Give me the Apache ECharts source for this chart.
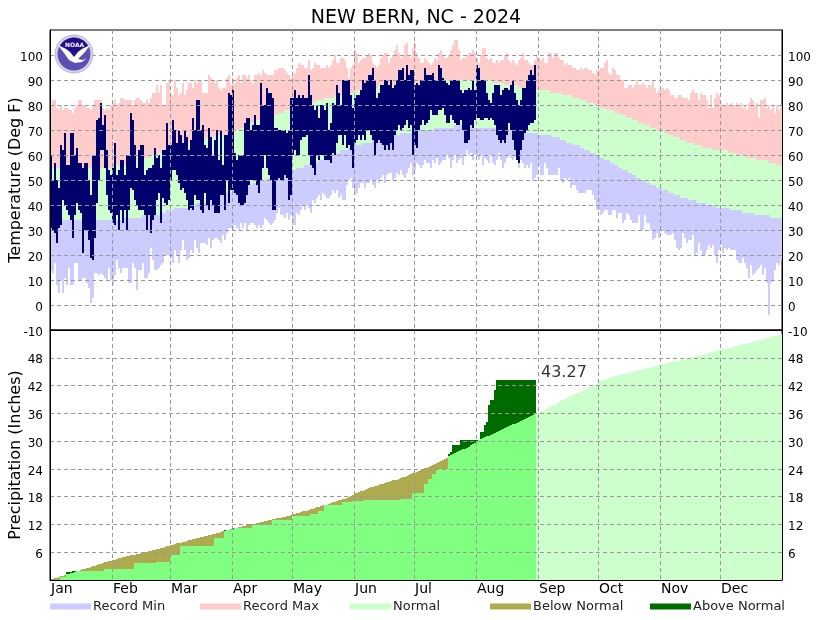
<!DOCTYPE html>
<html><head><meta charset="utf-8">
<style>html,body{margin:0;padding:0;background:#fff}#c{width:832px;height:620px}</style>
<script src="https://cdn.jsdelivr.net/npm/echarts@6/dist/echarts.min.js"></script>
</head><body><div id="c"></div>
<script>
const months = ['Jan','Feb','Mar','Apr','May','Jun','Jul','Aug','Sep','Oct','Nov','Dec'];
const monthDays = [31,29,31,30,31,30,31,31,30,31,30,31];
const chartTitle = 'NEW BERN, NC - 2024';
const tempTicks = [-10,0,10,20,30,40,50,60,70,80,90,100];
const precipTicks = [6,12,18,24,30,36,42,48];

const recordMin = [
14,13,17,8,5,10,5,11,8,15,8,8,17,17,10,10,11,11,9,7,1,3,13,13,12,13,12,11,10,15,10,
8,12,18,15,13,15,15,15,9,9,17,15,6,14,14,17,11,11,13,23,18,14,14,15,16,17,20,20,20,
19,17,22,20,17,22,26,22,18,19,22,21,26,23,21,25,25,25,24,27,23,26,27,27,26,25,28,26,29,31,31,
30,32,31,30,33,31,33,30,32,33,33,32,31,32,31,32,35,34,33,32,33,34,37,39,36,36,35,37,34,36,
32,32,37,36,38,40,38,40,39,37,42,41,43,44,42,45,44,43,43,44,46,45,46,43,44,42,42,48,50,51,47,
44,45,47,49,49,47,49,49,50,48,47,50,49,51,52,49,52,53,53,50,51,53,52,54,52,51,53,55,57,52,
54,57,56,55,56,58,57,57,55,58,57,59,56,57,58,58,60,59,55,58,60,57,58,59,56,60,62,60,61,58,60,
60,58,60,56,59,58,57,60,57,56,58,61,58,55,57,59,60,59,58,60,58,55,58,57,55,56,55,57,50,51,52,
56,52,52,57,55,52,52,52,52,52,55,50,49,51,50,51,47,48,48,46,45,45,45,45,46,46,46,44,42,38,
38,36,37,38,38,36,36,38,38,35,37,37,33,34,37,36,34,33,33,33,36,30,30,36,33,33,30,26,27,29,27,
30,30,29,28,28,28,29,26,23,22,23,29,27,25,26,26,28,20,21,25,22,20,20,22,24,23,24,20,17,22,
24,21,23,22,23,22,22,22,18,17,17,19,17,15,11,16,12,13,14,15,16,12,15,9,-4,9,10,14,17,16,18];

const recordMax = [
80,82,82,79,78,80,78,79,79,78,78,77,79,80,82,82,80,80,79,79,78,80,82,82,82,82,79,78,79,78,80,
81,82,80,81,83,83,82,82,82,82,80,82,83,83,82,81,81,82,81,83,85,85,88,85,88,80,80,89,90,
84,84,90,87,84,85,89,84,86,89,89,87,90,89,90,90,85,85,85,92,91,90,89,90,87,86,87,87,91,92,88,
91,89,91,92,89,92,92,91,92,90,89,92,92,93,92,94,93,92,92,92,92,94,94,95,95,95,94,93,92,91,
92,93,95,97,96,96,95,95,98,94,95,97,96,96,95,95,95,96,95,96,98,100,97,97,99,99,98,95,91,95,96,
102,101,97,98,99,99,100,101,100,97,96,95,96,99,100,101,101,97,99,100,102,104,101,99,100,104,105,100,99,103,
105,101,99,97,97,99,98,97,96,97,99,98,101,102,100,99,99,100,102,104,106,106,102,98,99,99,100,101,101,102,101,
99,97,100,103,103,99,98,99,97,97,98,97,98,98,100,101,98,97,98,97,96,98,99,101,98,98,97,96,96,98,100,
99,98,99,97,97,101,101,99,101,101,99,98,98,96,97,96,96,95,95,94,94,95,94,95,95,94,94,93,92,94,
94,95,95,97,98,93,92,95,94,92,92,90,90,87,87,88,88,87,88,90,88,88,89,88,87,88,88,90,87,85,86,
86,87,86,87,86,84,84,83,83,84,84,83,83,83,82,85,86,85,85,82,85,84,84,82,79,84,79,83,85,84,
81,80,80,81,80,81,80,80,81,80,81,79,80,78,81,83,82,80,81,75,82,82,83,79,80,78,80,77,80,78,80];

const normalHigh = [
55,55,55,55,55,55,55,55,55,55,55,55,55,55,55,55,55,55,55,55,55,55,55,55,55,55,55,55,55,55,55,
55,55,56,56,56,56,56,57,57,57,57,58,58,58,58,59,59,59,59,60,60,60,60,61,61,61,61,62,62,
62,62,63,63,63,64,64,64,64,65,65,65,65,66,66,66,66,66,67,67,67,67,67,67,68,68,68,68,68,69,69,
69,70,70,70,71,71,72,72,72,73,73,73,74,74,74,75,75,75,75,76,76,76,76,77,77,77,78,78,78,79,
79,79,79,80,80,80,80,81,81,81,81,81,82,82,82,82,83,83,83,83,83,84,84,84,84,84,85,85,85,85,85,
85,86,86,86,86,86,87,87,87,87,87,87,88,88,88,88,88,88,88,88,88,89,89,89,89,89,89,89,89,89,
89,89,89,89,89,90,90,90,90,90,90,90,90,90,90,90,90,90,90,90,90,90,90,90,90,90,90,90,90,90,90,
90,90,90,90,90,90,90,90,89,89,89,89,89,89,88,88,88,88,88,88,88,87,87,87,87,87,87,87,87,86,86,
86,86,86,86,86,86,85,85,85,85,85,85,84,84,84,84,84,83,83,83,83,82,82,82,81,81,81,81,80,80,
80,79,79,79,78,78,78,78,77,77,77,76,76,76,75,75,75,74,74,74,73,73,73,72,72,72,71,71,71,70,70,
70,70,69,69,68,68,68,67,67,67,66,66,66,65,65,65,65,64,64,64,64,63,63,63,63,63,62,62,62,62,
62,62,62,62,61,61,61,61,60,60,60,60,60,59,59,59,59,59,58,58,58,58,58,58,57,57,57,57,56,56,56];

const normalLow = [
34,34,34,34,34,34,34,34,34,34,34,34,34,34,34,34,34,34,34,34,34,34,34,34,34,34,34,34,34,34,34,
34,34,34,34,34,35,35,35,35,35,35,35,35,35,35,36,36,36,36,36,36,36,36,36,37,37,37,38,38,
38,38,39,39,39,39,39,39,39,40,40,40,40,41,41,41,41,41,42,42,42,42,43,43,43,44,44,44,45,45,45,
46,46,46,46,47,47,47,48,48,48,49,49,49,50,50,50,50,51,51,51,51,52,52,52,53,53,53,53,54,54,
54,54,55,55,55,55,56,56,56,57,57,57,57,58,58,58,59,59,60,60,60,61,61,61,62,62,62,62,63,63,63,
64,64,64,64,65,65,65,65,65,66,66,66,66,66,67,67,67,67,68,68,68,68,68,69,69,69,69,69,69,70,
70,70,70,70,70,70,70,70,70,70,71,71,71,71,71,71,71,71,71,71,72,72,72,72,72,72,72,72,72,72,71,
71,71,71,71,71,71,71,71,71,71,70,70,70,70,70,70,70,70,70,70,69,69,69,69,69,69,69,69,69,69,69,
68,68,68,68,68,68,68,67,67,67,67,66,66,66,65,65,65,64,64,64,64,63,63,62,62,62,61,61,61,60,
60,59,59,58,58,58,57,57,56,56,55,55,54,54,54,53,53,52,52,51,51,50,50,50,49,49,48,48,48,47,47,
47,46,46,46,45,45,45,44,44,44,43,43,43,43,42,42,42,42,41,41,41,41,41,40,40,40,40,40,39,39,
39,39,39,39,39,38,38,38,38,38,38,37,37,37,37,37,37,36,36,36,36,36,36,36,36,35,35,35,35,35,35];

const obsHigh = [
60,50,57,50,47,64,62,69,56,56,69,69,60,63,57,57,55,57,57,50,44,60,60,74,75,81,72,76,62,54,52,
55,65,52,54,58,58,52,60,60,77,74,64,55,62,64,64,52,54,55,55,56,63,59,60,55,62,62,73,64,
64,74,70,65,70,68,65,70,67,62,66,75,70,82,82,70,72,64,63,71,67,60,66,70,58,70,56,68,68,85,84,
86,61,58,60,60,60,73,75,75,70,72,76,72,72,89,80,80,87,85,85,83,71,71,70,70,70,70,69,70,83,83,
86,83,84,83,84,83,83,92,84,80,78,80,75,80,80,78,81,70,73,81,80,88,85,80,90,90,90,90,84,79,83,
84,84,86,90,89,90,92,92,95,90,83,85,88,88,90,90,88,90,87,88,90,94,94,95,90,96,92,94,94,88,
89,88,90,90,95,92,92,92,93,90,90,96,95,91,90,89,88,90,90,90,90,90,86,85,86,86,87,86,90,86,96,
95,90,90,90,85,82,81,85,88,88,88,84,86,87,87,86,88,90,85,82,80,82,87,87,90,92,94,92,96,96];

const obsLow = [
31,30,29,25,31,32,42,40,38,36,34,27,36,41,38,37,21,30,30,26,19,18,27,41,50,62,62,55,44,38,37,
33,32,36,30,38,33,38,30,38,47,46,42,40,38,38,38,36,30,36,29,34,36,42,45,33,43,41,40,42,
50,54,54,52,49,46,47,45,42,38,39,38,44,42,42,38,37,45,40,38,42,40,37,37,37,44,44,38,50,41,46,
46,45,44,41,40,40,41,44,48,50,50,50,48,45,50,55,60,55,52,50,38,38,50,51,50,50,52,51,42,44,
60,62,60,60,66,67,67,68,60,56,55,52,60,58,60,60,58,58,58,57,61,60,65,68,68,64,68,63,64,62,55,
65,66,68,66,68,66,70,70,68,66,60,65,66,65,64,62,64,62,65,62,68,70,72,70,71,72,74,71,72,60,
64,63,70,72,74,72,73,74,78,76,76,76,78,78,79,76,73,73,76,74,73,72,72,74,70,65,65,66,72,71,74,
75,75,74,74,75,75,74,75,74,72,68,66,65,66,65,68,73,70,66,62,58,57,62,66,69,70,72,73,73,74];

const normalPrecip = [
0.1,0.3,0.4,0.5,0.7,0.8,0.9,1.1,1.2,1.4,1.5,1.6,1.8,1.9,2.0,2.2,2.3,2.4,2.6,2.7,2.9,3.0,3.1,3.3,3.4,3.5,3.7,3.8,3.9,4.1,4.2,
4.3,4.4,4.5,4.7,4.8,4.9,5.0,5.1,5.2,5.3,5.4,5.5,5.6,5.7,5.8,5.9,6.0,6.1,6.2,6.3,6.4,6.5,6.6,6.7,6.9,7.0,7.1,7.3,7.4,
7.5,7.6,7.8,7.9,8.0,8.1,8.2,8.3,8.4,8.6,8.7,8.8,8.9,9.0,9.1,9.2,9.3,9.5,9.6,9.7,9.8,9.9,10.0,10.1,10.2,10.3,10.5,10.6,10.7,10.9,11.0,
11.1,11.2,11.3,11.4,11.5,11.6,11.7,11.8,11.9,12.0,12.1,12.2,12.3,12.4,12.5,12.6,12.7,12.8,12.9,13.0,13.1,13.2,13.3,13.4,13.5,13.6,13.7,13.8,13.9,14.1,
14.2,14.3,14.4,14.5,14.7,14.8,14.9,15.0,15.1,15.3,15.4,15.5,15.7,15.8,15.9,16.1,16.2,16.3,16.5,16.6,16.8,16.9,17.0,17.2,17.3,17.5,17.6,17.8,17.9,18.1,18.4,
18.7,18.8,19.0,19.2,19.3,19.5,19.6,19.8,20.0,20.1,20.2,20.4,20.5,20.7,20.8,20.9,21.1,21.2,21.3,21.5,21.6,21.7,21.9,22.0,22.2,22.3,22.5,22.7,22.9,23.1,
23.2,23.4,23.5,23.7,23.9,24.1,24.2,24.4,24.6,24.8,25.0,25.2,25.4,25.6,25.9,26.2,26.4,26.7,27.0,27.2,27.4,27.6,27.8,28.0,28.2,28.4,28.6,28.8,29.1,29.4,29.7,
30.0,30.2,30.4,30.6,30.8,31.0,31.2,31.4,31.6,31.8,32.0,32.2,32.4,32.6,32.8,33.0,33.2,33.4,33.6,33.8,34.0,34.2,34.4,34.6,34.8,35.0,35.2,35.4,35.6,35.8,35.9,
36.2,36.4,36.6,36.8,37.0,37.3,37.5,37.7,37.9,38.1,38.4,38.6,38.8,39.0,39.2,39.5,39.7,39.9,40.1,40.3,40.5,40.7,40.9,41.1,41.3,41.5,41.7,41.9,42.1,42.4,
42.7,42.9,43.1,43.3,43.4,43.6,43.7,43.9,44.0,44.1,44.2,44.3,44.4,44.6,44.7,44.8,44.9,45.0,45.1,45.2,45.3,45.4,45.5,45.6,45.7,45.8,45.9,46.0,46.2,46.3,46.4,
46.5,46.6,46.7,46.8,46.9,47.0,47.1,47.2,47.3,47.4,47.5,47.6,47.7,47.8,47.9,48.0,48.1,48.2,48.3,48.5,48.6,48.7,48.8,48.9,49.0,49.2,49.3,49.4,49.5,49.6,
49.7,49.8,49.9,50.0,50.1,50.2,50.3,50.5,50.6,50.7,50.8,50.9,51.0,51.1,51.2,51.3,51.4,51.6,51.7,51.8,51.9,52.0,52.1,52.2,52.3,52.4,52.6,52.7,52.8,53.0,53.2];

const obsPrecip = [
0.1,0.1,0.1,0.1,0.1,0.7,0.7,0.7,1.65,1.65,1.65,2.05,2.05,2.05,2.05,2.05,2.05,2.05,2.05,2.05,2.05,2.05,2.05,2.05,2.05,2.05,2.05,2.4,2.4,2.4,2.4,
2.4,2.4,2.4,2.4,2.4,2.4,2.4,2.4,2.4,2.4,2.4,3.6,3.6,3.6,3.6,3.6,3.6,3.6,3.6,3.6,3.6,3.6,3.95,3.95,3.95,3.95,3.95,3.95,3.95,
5.4,5.4,5.4,5.4,5.4,7.3,7.3,7.3,7.3,7.3,7.3,7.3,7.3,7.3,7.3,7.3,7.3,7.3,7.3,7.3,7.3,7.3,9.05,9.05,9.05,9.05,9.05,10.8,10.8,10.8,10.8,
11.2,11.2,11.2,11.2,11.2,11.2,11.2,11.2,11.2,11.2,11.85,11.85,11.85,11.85,11.85,11.85,11.85,11.85,11.85,11.85,12.95,12.95,12.95,12.95,12.95,12.95,12.95,12.95,12.95,12.95,
13.8,13.8,13.8,13.8,13.8,13.8,13.8,13.8,13.8,14.2,14.2,14.2,14.2,14.9,14.9,14.9,16.2,16.2,16.2,16.2,16.2,16.2,16.2,16.2,16.2,16.8,16.8,16.8,16.8,16.8,17,
17,17,17,17,17,17.25,17.25,17.25,17.25,17.25,17.25,17.25,17.25,17.25,17.25,17.25,17.25,17.25,17.25,17.25,17.25,17.25,17.25,17.5,17.5,17.5,17.5,17.5,17.5,18.8,
18.8,18.8,18.8,18.8,18.8,20.8,20.8,21.9,21.9,22.8,22.8,24,24,24,24,24,24,27.3,27.6,29.1,29.1,29.1,29.1,30.2,30.2,30.2,30.2,30.2,30.2,30.2,30.2,
30.2,30.2,32,32,33.4,34.1,37.7,38.8,38.8,41.1,43.1,43.1,43.1,43.1,43.1,43.1,43.27,43.27,43.27,43.27,43.27,43.27,43.27,43.27,43.27,43.27,43.27,43.27,43.27,43.27];

const categories = [];
const monthStarts = new Set();
months.forEach((m, k) => {
  monthStarts.add(categories.length);
  for (let d = 1; d <= monthDays[k]; d++) categories.push(m + ' ' + d);
});
const isMonthStart = i => monthStarts.has(i);

function dayBar(params, api) {
  const i = api.value(0);
  const a = api.coord([i, api.value(1)]);
  const b = api.coord([i, api.value(2)]);
  const w = api.size([1, 0])[0];
  const top = Math.round(b[1]), bottom = Math.round(a[1]);
  return { type: 'rect', shape: { x: Math.round(a[0] - w / 2), y: top, width: Math.round(w), height: bottom - top },
           style: api.style() };
}
function band(name, color, rows, panel) {
  return { type: 'custom', name, renderItem: dayBar, data: rows,
           xAxisIndex: panel, yAxisIndex: panel === 0 ? 0 : 2,
           encode: { x: 0, y: [1, 2] }, itemStyle: { color }, silent: true, animation: false, z: 2 };
}
const C = { min:'#ccccff', max:'#ffcccc', normal:'#ccffcc', below:'#aeaa4f', above:'#006c00', obs:'#00006c', lime:'#80ff80' };

const tempLow = categories.map((_, i) => [i, recordMin[i], normalLow[i]]);
const tempMid = categories.map((_, i) => [i, normalLow[i], normalHigh[i]]);
const tempTop = categories.map((_, i) => [i, normalHigh[i], recordMax[i]]);
const tempObs = obsHigh.map((h, i) => [i, obsLow[i], h]);

const precipNormal = categories.map((_, i) => [i, 0, normalPrecip[i]]).slice(obsPrecip.length);
const precipLime = obsPrecip.map((v, i) => [i, 0, Math.min(v, normalPrecip[i])]);
const precipBelow = obsPrecip.map((v, i) => [i, v, normalPrecip[i]]).filter(r => r[1] < r[2]);
const precipAbove = obsPrecip.map((v, i) => [i, normalPrecip[i], v]).filter(r => r[1] < r[2]);
const lastIdx = obsPrecip.length - 1;

const font = 'DejaVu Sans';
const dash = { color: '#999', type: [4, 3], width: 1 };
function xAxis(gridIndex, labels) {
  return { type: 'category', gridIndex, data: categories, boundaryGap: true, z: 10,
    axisLine: { show: true, onZero: false, lineStyle: { color: '#000' } }, axisTick: { show: false },
    axisLabel: { show: labels, interval: (i) => isMonthStart(i), formatter: v => v.split(' ')[0],
      align: 'left', color: '#000', fontFamily: font, fontSize: 14, margin: 2, hideOverlap: false },
    splitLine: { show: true, interval: (i) => isMonthStart(i) , lineStyle: dash, showMinLine: false, showMaxLine: false } };
}
function yAxis(gridIndex, position, min, max, interval, fmt, name) {
  const left = position === 'left';
  return { type: 'value', gridIndex, position, min, max, interval, z: 10, name,
    nameLocation: 'middle', nameGap: 26, nameMoveOverlap: false,
    nameTextStyle: { fontFamily: font, fontSize: 16, color: '#000' },
    axisLine: { show: true, onZero: false, lineStyle: { color: '#000' } }, axisTick: { show: false },
    axisLabel: { color: '#000', fontFamily: font, fontSize: 12, margin: left ? 7 : 6, formatter: fmt,
      rich: { t: { color: '#000', fontFamily: font, fontSize: 12, padding: [5, 0, 0, 0] } } },
    splitLine: { show: left, lineStyle: dash, showMinLine: false, showMaxLine: false } };
}
const tempFmt = v => tempTicks.includes(v) ? '{t|' + v + '}' : '';
const precipFmt = v => precipTicks.includes(v) ? '{t|' + v + '}' : '';

function legendItem(name, left) {
  return { data: [{ name, icon: 'rect' }], left, top: 600, itemWidth: 41, itemHeight: 6, selectedMode: false,
    padding: 0, textStyle: { fontFamily: font, fontSize: 13, color: '#222', padding: [0, 0, 6, -3] } };
}

const chart = echarts.init(document.getElementById('c'), null, { renderer: 'canvas' });
chart.setOption({
  animation: false,
  backgroundColor: '#fff',
  title: { text: chartTitle, left: 'center', top: 9, padding: 0,
    textStyle: { fontFamily: font, fontSize: 19, fontWeight: 'normal', color: '#000' } },
  grid: [
    { left: 50, top: 30, width: 732, height: 300, outerBoundsMode: 'none', show: true, borderColor: '#000', borderWidth: 1, backgroundColor: 'transparent' },
    { left: 50, top: 330, width: 732, height: 250, outerBoundsMode: 'none', show: true, borderColor: '#000', borderWidth: 1, backgroundColor: 'transparent' }
  ],
  xAxis: [xAxis(0, false), xAxis(1, true)],
  yAxis: [
    yAxis(0, 'left', -10, 110, 10, tempFmt, 'Temperature (Deg F)'),
    yAxis(0, 'right', -10, 110, 10, tempFmt),
    yAxis(1, 'left', 0, 54, 6, precipFmt, 'Precipitation (Inches)'),
    yAxis(1, 'right', 0, 54, 6, precipFmt)
  ],
  legend: [legendItem('Record Min', 50), legendItem('Record Max', 200), legendItem('Normal', 350),
           legendItem('Below Normal', 490), legendItem('Above Normal', 650)],
  series: [
    band('Record Min', C.min, tempLow, 0),
    band('Normal', C.normal, tempMid, 0),
    band('Record Max', C.max, tempTop, 0),
    band('Observed', C.obs, tempObs, 0),
    band('Normal', C.normal, precipNormal, 1),
    band('Observed Precip', C.lime, precipLime, 1),
    band('Below Normal', C.below, precipBelow, 1),
    band('Above Normal', C.above, precipAbove, 1),
    { type: 'scatter', name: 'Total', xAxisIndex: 1, yAxisIndex: 2, symbolSize: 0, silent: true,
      data: [[lastIdx, obsPrecip[lastIdx]]],
      label: { show: true, position: 'right', distance: 6, offset: [0, -7], formatter: p => String(p.value[1]),
        fontFamily: font, fontSize: 16, color: '#000' } }
  ],
  graphic: [
    { type: 'circle', z: 20, shape: { cx: 74, cy: 54, r: 19 }, style: { fill: '#d4d2e6', stroke: '#b9b6d6', lineWidth: 1 } },
    { type: 'circle', z: 20, shape: { cx: 74, cy: 54, r: 16.5 }, style: { fill: '#5c4fb4' } },
    { type: 'polygon', z: 21, shape: { points: [[60,46],[64,41],[69,38.5],[74,37.5],[79,38.5],[84,41],[88,46],[82,49],[78,52],[74,57],[70,52],[66,49]] }, style: { fill: '#220c8c' } },
    { type: 'polygon', z: 21, shape: { points: [[58,45],[66,49],[70,52],[74,57],[78,52],[82,49],[90,45],[85,52],[78,59],[83,60],[87,58],[82,62],[75,63],[69,60],[64,53]] }, style: { fill: '#ffffff' } },
    { type: 'text', z: 22, left: 65, top: 42, style: { text: 'NOAA', fill: '#fff', font: 'bold 6px DejaVu Sans' } }
  ]
});
</script></body></html>
